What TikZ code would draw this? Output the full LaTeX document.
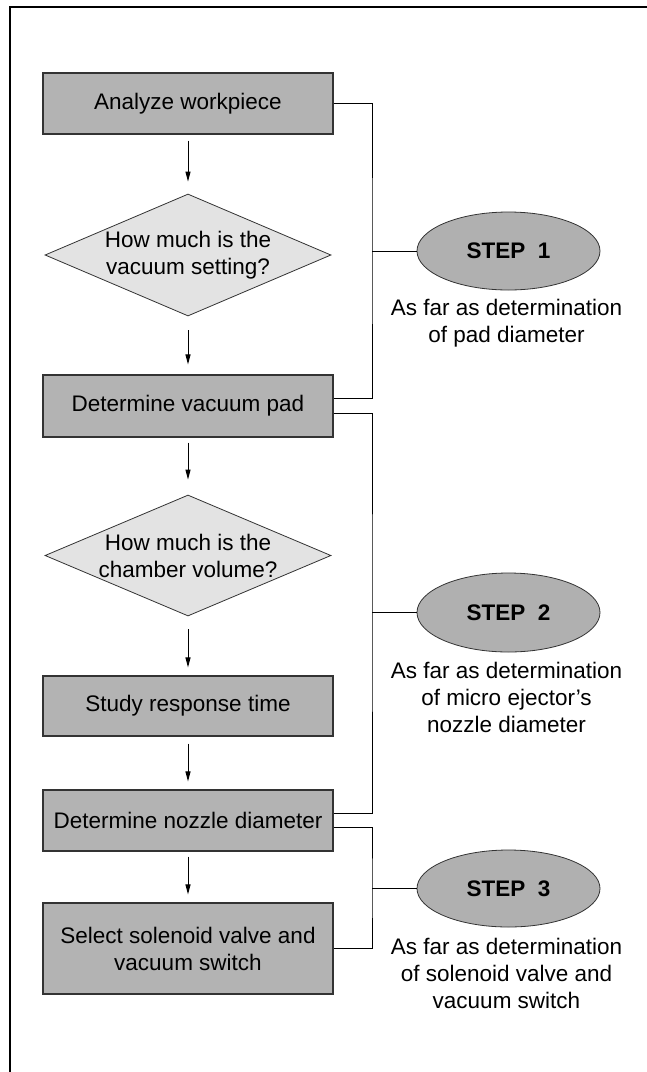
\documentclass[tikz,border=0pt]{standalone}
\usepackage{fontspec}
\setmainfont{Liberation Sans}
\usetikzlibrary{shapes.geometric,arrows.meta}
\definecolor{boxfill}{HTML}{B3B3B3}
\definecolor{diafill}{HTML}{E3E3E3}
\definecolor{ellfill}{HTML}{B0B0B0}
\definecolor{edge}{HTML}{333333}
\tikzset{
  txt/.style={font=\fontsize{22.5}{27}\selectfont, align=center},
  stepbox/.style={draw=edge, fill=boxfill, line width=1.1pt, rectangle, minimum width=290pt, inner sep=0pt, txt},
  dia/.style={draw=edge, fill=diafill, line width=0.8pt, diamond, inner sep=0pt, minimum width=286pt, minimum height=122pt},
  dtext/.style={txt},
  stepell/.style={draw=edge, fill=ellfill, line width=0.8pt, ellipse, inner sep=0pt, minimum width=183pt, minimum height=78pt, font=\fontsize{22.5}{27}\selectfont\bfseries},
  note/.style={txt},
  conn/.style={draw=black, line width=1pt},
  arr/.style={draw=black, line width=1pt, -{Triangle[width=5pt,length=10pt]}},
}
\begin{document}
\begin{tikzpicture}[x=1pt,y=-1pt]
\useasboundingbox (0,0) rectangle (647,1072);
% frame
\draw[line width=1.4pt] (10,1075) -- (10,7) -- (650,7);
% flow nodes
\node[stepbox, minimum height=61pt] (b1) at (188,103.5) {Analyze workpiece};
\node[dia, label={[dtext]center:How much is the\\vacuum setting?}] (d1) at (188,255) {};
\node[stepbox, minimum height=62pt] (b2) at (188,406) {Determine vacuum pad};
\node[dia, minimum height=121pt, label={[dtext]center:How much is the\\chamber volume?}] (d2) at (188,555.5) {};
\node[stepbox, minimum height=60pt] (b3) at (188,706) {Study response time};
\node[stepbox, minimum height=61pt] (b4) at (188,820.5) {Determine nozzle diameter};
\node[stepbox, minimum height=91pt] (b5) at (188,948.5) {Select solenoid valve and\\vacuum switch};
% arrows
\draw[arr, shorten <=6pt, shorten >=12pt] (b1) -- (d1);
\draw[arr, shorten <=14pt, shorten >=10pt] (d1) -- (b2);
\draw[arr, shorten <=5pt, shorten >=15pt] (b2) -- (d2);
\draw[arr, shorten <=13pt, shorten >=8pt] (d2) -- (b3);
\draw[arr, shorten <=7pt, shorten >=8pt] (b3) -- (b4);
\draw[arr, shorten <=5pt, shorten >=8pt] (b4) -- (b5);
% steps
\node[stepell] (e1) at (508.5,251) {STEP\ \ 1};
\node[stepell, minimum height=79pt] (e2) at (508.5,612.5) {STEP\ \ 2};
\node[stepell, minimum height=77pt] (e3) at (508.5,888.5) {STEP\ \ 3};
\node[note] (t1) at (506.5,323.5) {As far as determination\\of pad diameter};
\node[note] (t2) at (506.5,697.5) {As far as determination\\of micro ejector's\\nozzle diameter};
\node[note] (t3) at (506.5,973) {As far as determination\\of solenoid valve and\\vacuum switch};
% brackets
\coordinate (j1) at (372,251);
\coordinate (j2) at (372,612.5);
\coordinate (j3) at (372,888.5);
\draw[conn] (b1.east) -| (j1) |- ([yshift=8pt]b2.east);
\draw[conn] (j1) -- (e1.west);
\draw[conn] ([yshift=-7pt]b2.east) -| (j2) |- ([yshift=7.5pt]b4.east);
\draw[conn] (j2) -- (e2.west);
\draw[conn] ([yshift=-6.5pt]b4.east) -| (j3) |- (b5.east);
\draw[conn] (j3) -- (e3.west);
\end{tikzpicture}
\end{document}
